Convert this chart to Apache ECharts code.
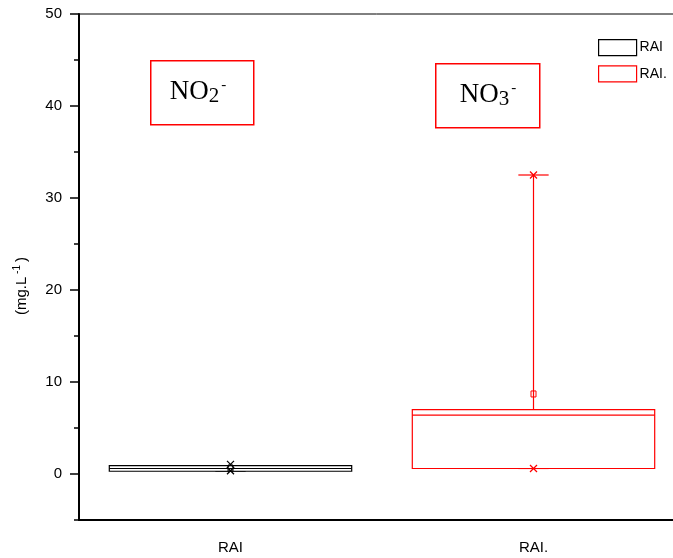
<!DOCTYPE html>
<html>
<head>
<meta charset="utf-8">
<script src="https://cdn.jsdelivr.net/npm/echarts@6/dist/echarts.min.js"></script>
<style>html,body{margin:0;padding:0;background:#fff}#c{width:673px;height:558px}</style>
</head>
<body>
<div id="c"></div>
<script>
// ---- data ----
var categories = ['RAI', 'RAI.'];
var seriesNames = ['RAI', 'RAI.'];
var whiskerLow = [0.3, 0.6];
var q1Vals = [0.3, 0.6];
var medianVals = [0.6, 6.4];
var q3Vals = [0.9, 7.0];
var whiskerHigh = [0.9, 32.5];
var meanVals = [0.65, 8.7];
var extremeLow = [0.35, 0.6];
var extremeHigh = [1.05, 32.5];
var yMajorTicks = [0, 10, 20, 30, 40, 50];
var yMinorTicks = [-5, 5, 15, 25, 35, 45];
var colors = ['#000000', '#ff0000'];

var chart = echarts.init(document.getElementById('c'), null, {renderer: 'canvas'});

function makeRender(color) {
  return function (params, api) {
    var x = api.value(0);
    var band = api.size([1, 0])[0];
    var half = band * 0.4;
    var cap = band * 0.05;
    var pLow = api.coord([x, api.value(1)]);
    var pQ1 = api.coord([x, api.value(2)]);
    var pMed = api.coord([x, api.value(3)]);
    var pQ3 = api.coord([x, api.value(4)]);
    var pHigh = api.coord([x, api.value(5)]);
    var pMean = api.coord([x, api.value(6)]);
    var pXl = api.coord([x, api.value(7)]);
    var pXh = api.coord([x, api.value(8)]);
    var cx = pQ1[0];
    var ls = {stroke: color, lineWidth: 1.2, fill: null};
    var children = [
      {type: 'line', shape: {x1: cx, y1: pQ3[1], x2: cx, y2: pHigh[1]}, style: ls},
      {type: 'line', shape: {x1: cx, y1: pQ1[1], x2: cx, y2: pLow[1]}, style: ls},
      {type: 'line', shape: {x1: cx - cap, y1: pHigh[1], x2: cx + cap, y2: pHigh[1]}, style: ls},
      {type: 'line', shape: {x1: cx - cap, y1: pLow[1], x2: cx + cap, y2: pLow[1]}, style: ls},
      {type: 'rect', shape: {x: cx - half, y: pQ3[1], width: half * 2, height: pQ1[1] - pQ3[1]}, style: {stroke: color, lineWidth: 1.2, fill: '#fff'}},
      {type: 'line', shape: {x1: cx - half, y1: pMed[1], x2: cx + half, y2: pMed[1]}, style: ls},
      {type: 'rect', shape: {x: cx - 2.5, y: pMean[1] - 3, width: 5, height: 6}, style: {stroke: color, lineWidth: 1, fill: null}},
      {type: 'line', shape: {x1: cx - 3.5, y1: pXl[1] - 3.5, x2: cx + 3.5, y2: pXl[1] + 3.5}, style: ls},
      {type: 'line', shape: {x1: cx - 3.5, y1: pXl[1] + 3.5, x2: cx + 3.5, y2: pXl[1] - 3.5}, style: ls},
      {type: 'line', shape: {x1: cx - 3.5, y1: pXh[1] - 3.5, x2: cx + 3.5, y2: pXh[1] + 3.5}, style: ls},
      {type: 'line', shape: {x1: cx - 3.5, y1: pXh[1] + 3.5, x2: cx + 3.5, y2: pXh[1] - 3.5}, style: ls}
    ];
    return {type: 'group', children: children};
  };
}

var series = categories.map(function (c, i) {
  return {
    type: 'custom',
    name: seriesNames[i],
    xAxisIndex: 0,
    yAxisIndex: 0,
    renderItem: makeRender(colors[i]),
    itemStyle: {color: '#fff', borderColor: colors[i], borderWidth: 1.2},
    encode: {x: 0, y: [1, 2, 3, 4, 5]},
    data: [[i, whiskerLow[i], q1Vals[i], medianVals[i], q3Vals[i], whiskerHigh[i], meanVals[i], extremeLow[i], extremeHigh[i]]],
    z: 3
  };
});

var font = 'Liberation Sans, Arial, sans-serif';
var serif = 'Liberation Serif, Times New Roman, serif';

chart.setOption({
  animation: false,
  backgroundColor: '#fff',
  grid: {left: 79, top: 14, width: 606, bottom: 38, outerBoundsMode: 'none', containLabel: false,
         show: true, borderColor: '#000', borderWidth: 1, backgroundColor: 'transparent'},
  legend: {
    orient: 'vertical', left: 593, top: 34, itemWidth: 38, itemHeight: 16, itemGap: 9,
    textStyle: {fontFamily: font, fontSize: 14, color: '#000', padding: [0, 0, 0, -2]},
    data: seriesNames.map(function (n, i) {
      return {name: n, icon: 'rect', itemStyle: {color: '#fff', borderColor: colors[i], borderWidth: 1.2}};
    })
  },
  xAxis: [{
    type: 'category', data: categories, boundaryGap: true,
    axisLine: {onZero: false, lineStyle: {color: '#000', width: 2}},
    axisTick: {alignWithLabel: true, length: 8, lineStyle: {color: '#000', width: 1.5}},
    axisLabel: {fontFamily: font, fontSize: 15, color: '#000', margin: 20},
    splitLine: {show: false}
  }],
  yAxis: [{
    type: 'value', min: -5, max: 50, interval: 5,
    axisLine: {show: true, onZero: false, lineStyle: {color: '#000', width: 2}},
    axisTick: {show: true, length: 9, customValues: yMajorTicks, lineStyle: {color: '#000', width: 1.5}},
    axisLabel: {fontFamily: font, fontSize: 15, color: '#000', margin: 17, customValues: yMajorTicks},
    splitLine: {show: false}
  }, {
    type: 'value', min: -5, max: 50, interval: 5, position: 'left',
    axisLine: {show: false},
    axisTick: {show: true, length: 5, customValues: yMinorTicks, lineStyle: {color: '#000', width: 1.5}},
    axisLabel: {show: false},
    splitLine: {show: false}
  }],
  graphic: [
    {type: 'text', x: 22, y: 286, rotation: Math.PI / 2, z: 11, style: {
      text: '{a|(mg.L}{s| -1}{a|)}', align: 'center', verticalAlign: 'middle',
      rich: {
        a: {fontFamily: font, fontSize: 15, fill: '#000'},
        s: {fontFamily: font, fontSize: 10, fill: '#000', padding: [0, 3, 10, 0]}
      }
    }},
    {type: 'rect', left: 150, top: 60, shape: {width: 103, height: 64}, style: {fill: '#fff', stroke: '#ff0000', lineWidth: 1.5}, z: 10},
    {type: 'text', x: 198, y: 92, z: 11, style: {
      text: '{n|NO}{b|2}{p|-}', align: 'center', verticalAlign: 'middle',
      rich: {
        n: {fontFamily: serif, fontSize: 27, fill: '#000'},
        b: {fontFamily: serif, fontSize: 21, fill: '#000', padding: [8, 0, 0, 0]},
        p: {fontFamily: serif, fontSize: 15, fill: '#000', padding: [0, 0, 14, 2]}
      }
    }},
    {type: 'rect', left: 435, top: 63, shape: {width: 104, height: 64}, style: {fill: '#fff', stroke: '#ff0000', lineWidth: 1.5}, z: 10},
    {type: 'text', x: 488, y: 95, z: 11, style: {
      text: '{n|NO}{b|3}{p|-}', align: 'center', verticalAlign: 'middle',
      rich: {
        n: {fontFamily: serif, fontSize: 27, fill: '#000'},
        b: {fontFamily: serif, fontSize: 21, fill: '#000', padding: [8, 0, 0, 0]},
        p: {fontFamily: serif, fontSize: 15, fill: '#000', padding: [0, 0, 14, 2]}
      }
    }}
  ],
  series: series
});
</script>
</body>
</html>
